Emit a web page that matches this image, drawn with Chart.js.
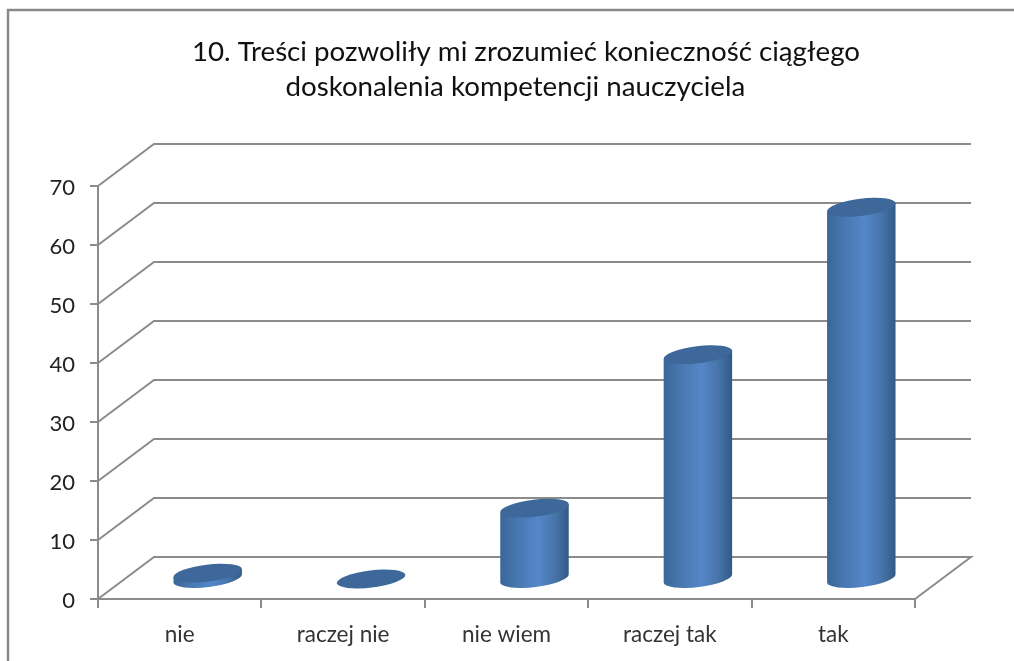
<!DOCTYPE html>
<html lang="pl">
  <head>
    <meta charset="UTF-8" />
    <title>Wykres</title>
    <script src="https://cdn.jsdelivr.net/npm/chart.js@4/dist/chart.umd.min.js"></script>
    <style>
      html, body { margin: 0; padding: 0; background: #fff; overflow: hidden; }
      #wrap { width: 1014px; height: 661px; }
      #myChart { filter: blur(0.45px); }
    </style>
  </head>
  <body>
    <div id="wrap"><canvas id="myChart" width="1014" height="661"></canvas></div>
    <script>
      const categories = ["nie", "raczej nie", "nie wiem", "raczej tak", "tak"];
      const values = [1, 0, 12, 38, 63];
      const titleLines = [
        "10. Treści pozwoliły mi zrozumieć konieczność ciągłego",
        "doskonalenia kompetencji nauczyciela   ",
      ];

      // how far the back wall sits behind the axes
      const depthX = 56;
      const depthY = 42;
      const gridColor = "#8b8b8b";

      const wallPlugin = {
        id: "wall",
        afterLayout(chart) {
          // title is centred to the right of the plot
          chart.titleBlock.left += 68.5;
          chart.titleBlock.right += 68.5;
        },
        beforeDraw(chart) {
          const ctx = chart.ctx;
          ctx.save();
          ctx.strokeStyle = "#8a8a8a";
          ctx.lineWidth = 2.5;
          ctx.beginPath();
          ctx.moveTo(8, 661);
          ctx.lineTo(8, 10);
          ctx.lineTo(1014, 10);
          ctx.stroke();
          ctx.restore();
        },
        beforeDatasetsDraw(chart) {
          const ctx = chart.ctx;
          const { x, y } = chart.scales;
          ctx.save();
          ctx.strokeStyle = gridColor;
          ctx.lineWidth = 2;
          y.ticks.forEach((t) => {
            const py = y.getPixelForValue(t.value);
            ctx.beginPath();
            ctx.moveTo(x.left, py);
            ctx.lineTo(x.left + depthX, py - depthY);
            ctx.lineTo(x.right + depthX, py - depthY);
            if (t.value === 0) ctx.lineTo(x.right, py);
            ctx.stroke();
          });
          ctx.restore();
        },
        afterDatasetsDraw(chart) {
          const ctx = chart.ctx;
          const y = chart.scales.y;
          const rot = (-7 * Math.PI) / 180;
          chart.getDatasetMeta(0).data.forEach((bar, i) => {
            const cx = bar.x + depthX / 2;
            const rx = bar.width / 2 + 0.5;
            const ry = 8.5;
            const base = y.getPixelForValue(0) - depthY / 2 + 0.5;
            const top = y.getPixelForValue(values[i]) - depthY / 2 + 1;
            const ex = rx * Math.cos(rot);
            const ey = rx * Math.sin(rot);
            if (values[i] > 0) {
              const g = ctx.createLinearGradient(cx - ex, 0, cx + ex, 0);
              g.addColorStop(0, "#3b6698");
              g.addColorStop(0.25, "#4778b0");
              g.addColorStop(0.55, "#5587c9");
              g.addColorStop(0.8, "#4774a8");
              g.addColorStop(1, "#325a88");
              ctx.fillStyle = g;
              ctx.beginPath();
              ctx.ellipse(cx, base, rx, ry, rot, 0, Math.PI);
              ctx.lineTo(cx - ex, top - ey);
              ctx.lineTo(cx + ex, top + ey);
              ctx.closePath();
              ctx.fill();
            }
            ctx.fillStyle = "#3d6899";
            ctx.beginPath();
            ctx.ellipse(cx, top, rx, ry, rot, 0, Math.PI * 2);
            ctx.fill();
          });
        },
      };

      new Chart(document.getElementById("myChart").getContext("2d"), {
        type: "bar",
        data: {
          labels: categories,
          datasets: [
            {
              data: values,
              backgroundColor: "transparent",
              barPercentage: 0.416,
              categoryPercentage: 1,
            },
          ],
        },
        options: {
          responsive: false,
          animation: false,
          layout: { padding: { left: 0, right: 99, top: 0, bottom: 0 } },
          plugins: {
            legend: { display: false },
            tooltip: { enabled: false },
            title: {
              display: true,
              text: titleLines,
              color: "#111",
              font: { family: "Lato", size: 27.7, weight: "normal", lineHeight: 1.27 },
              padding: { top: 34, bottom: 81.6 },
            },
          },
          scales: {
            x: {
              afterFit(s) { s.height = 62; },
              border: { color: gridColor, width: 2 },
              grid: { drawOnChartArea: false, color: gridColor, lineWidth: 2, tickLength: 9 },
              ticks: { color: "#333", font: { family: "Lato", size: 22.5 }, padding: 13, maxRotation: 0 },
            },
            y: {
              min: 0,
              max: 70,
              afterFit(s) { s.width = 98; },
              border: { color: gridColor, width: 2 },
              grid: { drawOnChartArea: false, color: gridColor, lineWidth: 2, tickLength: 8 },
              ticks: { stepSize: 10, color: "#222", font: { family: "Lato", size: 22 }, padding: 15, labelOffset: 2 },
            },
          },
        },
        plugins: [wallPlugin],
      });
    </script>
  </body>
</html>
